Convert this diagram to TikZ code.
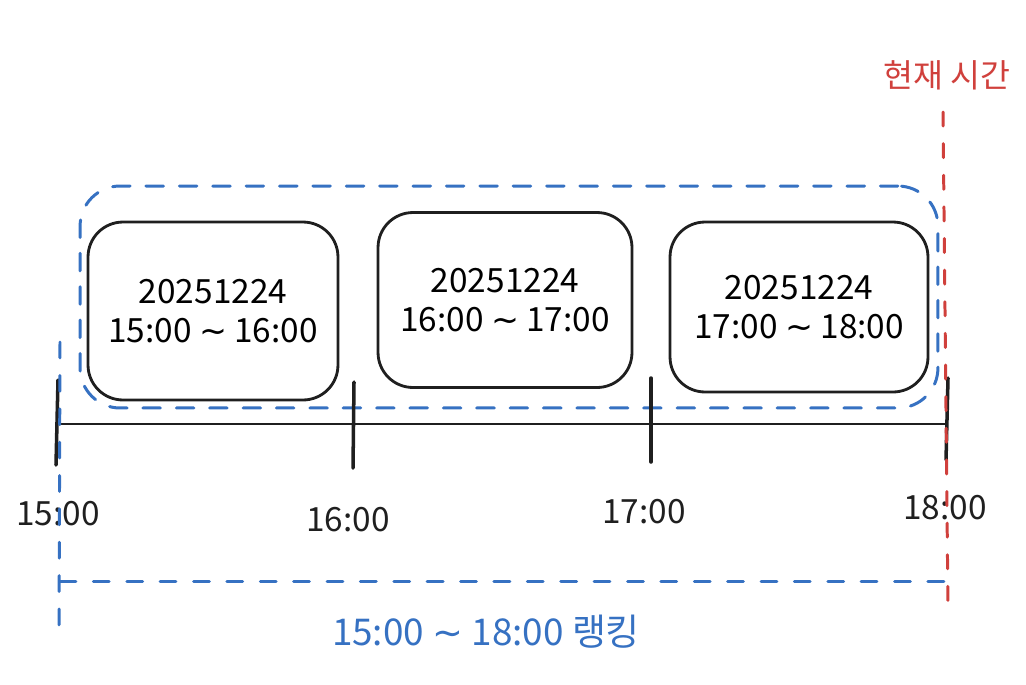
\documentclass[tikz,border=0pt]{standalone}
\usepackage{fontspec}
\setmainfont{Noto Sans CJK KR}
\newfontfamily\symfont{DejaVu Sans}
\newcommand{\tld}{{\symfont ∼}}
\definecolor{rankblue}{RGB}{54,113,194}
\definecolor{nowred}{RGB}{208,64,60}
\begin{document}
\begin{tikzpicture}[x=0.02cm, y=-0.02cm]
    \tikzstyle{slotnode} = [rectangle, rounded corners=0.7cm, draw=black!88,
      line width=1.6pt, align=center, font=\fontsize{19}{22}\selectfont]
    \tikzstyle{groupnode} = [rectangle, rounded corners=0.8cm, draw=rankblue,
      line width=1.7pt, line cap=round, dash pattern=on 10pt off 9pt]
    \tikzstyle{timelabel} = [font=\fontsize{19}{22}\selectfont, text=black!88]
    \tikzstyle{timeline} = [draw=black!88, line width=1pt]
    \tikzstyle{tickline} = [draw=black!88, line width=2pt, line cap=round]
    \tikzstyle{rankline} = [draw=rankblue, line width=1.7pt, line cap=round, dash pattern=on 9pt off 10pt]
    \tikzstyle{nowline} = [draw=nowred, line width=1.7pt, line cap=round, dash pattern=on 8pt off 10pt]
    \useasboundingbox (0,0) rectangle (1026,684);

    % time slots
    \node (group) [groupnode, minimum width=17.16cm, minimum height=4.44cm] at (509,297) {};
    \node (slot1) [slotnode, minimum width=5cm, minimum height=3.56cm] at (213,311) {20251224\\15:00 \tld{} 16:00};
    \node (slot2) [slotnode, minimum width=5.08cm, minimum height=3.5cm] at (505,300) {20251224\\16:00 \tld{} 17:00};
    \node (slot3) [slotnode, minimum width=5.16cm, minimum height=3.4cm] at (799,307) {20251224\\17:00 \tld{} 18:00};

    % timeline
    \coordinate (t15) at (58,424);
    \coordinate (t18) at (946,424);
    \draw [timeline] (t15) -- (t18);
    \coordinate (t15a) at (58,380); \coordinate (t15b) at (56,465);
    \coordinate (t16a) at (354,382); \coordinate (t16b) at (353,468);
    \coordinate (t17a) at (651,378); \coordinate (t17b) at (651,462);
    \coordinate (t18a) at (948,378); \coordinate (t18b) at (946,460);
    \draw [tickline] (t15a) -- (t15b);
    \draw [tickline] (t16a) -- (t16b);
    \draw [tickline] (t17a) -- (t17b);
    \draw [tickline] (t18a) -- (t18b);
    \node (l15) [timelabel] at (58,514) {15:00};
    \node (l16) [timelabel] at (348,520) {16:00};
    \node (l17) [timelabel] at (644,512) {17:00};
    \node (l18) [timelabel] at (945,508) {18:00};

    % ranking range
    \coordinate (r1) at (60,342);
    \coordinate (r2) at (59,638);
    \coordinate (r3) at (60,581);
    \coordinate (r4) at (946,581);
    \draw [rankline] (r1) -- (r2);
    \draw [rankline] (r3) -- (r4);
    \node (rank) [text=rankblue, font=\fontsize{21}{24}\selectfont] at (486,632) {15:00 \tld{} 18:00 랭킹};

    % now
    \node (now) [text=nowred, font=\fontsize{18.5}{20}\selectfont] at (947,75) {현재 시간};
    \coordinate (n1) at (943,112);
    \coordinate (n2) at (948,610);
    \draw [nowline] (n1) -- (n2);
\end{tikzpicture}
\end{document}
